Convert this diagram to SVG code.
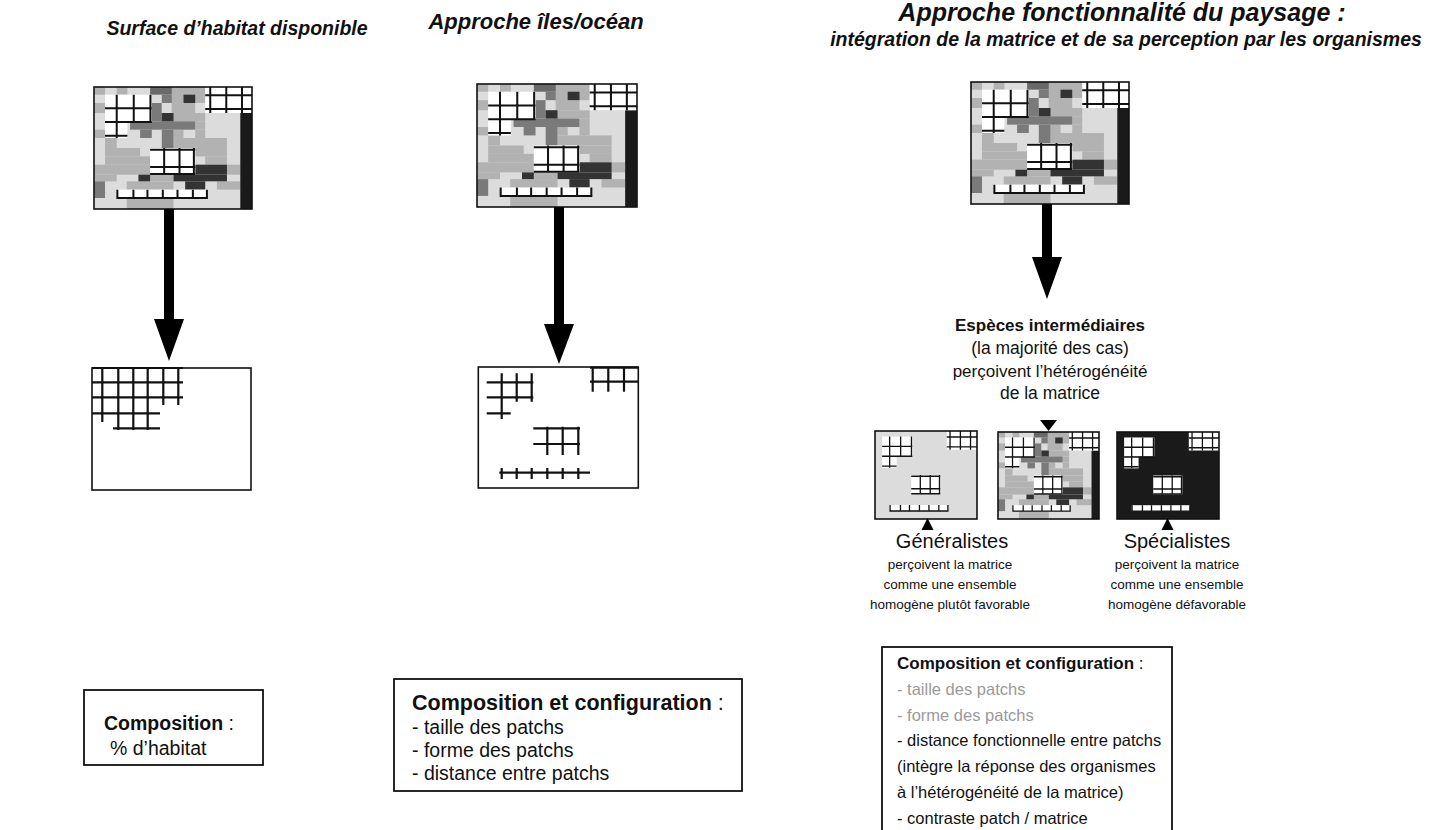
<svg xmlns="http://www.w3.org/2000/svg" width="1440" height="830" viewBox="0 0 1440 830">
<style>
  text { font-family: "Liberation Sans", Arial, Helvetica, sans-serif; fill: #111; }
  .bi { font-weight: bold; font-style: italic; }
  .b { font-weight: bold; }
  .gray { fill: #9a9a9a; }
  .frame { fill: none; stroke: #111; stroke-width: 1.6; }
  .box { fill: #fff; stroke: #111; stroke-width: 1.8; }
  .gl { stroke: #111; stroke-width: 6; fill: none; }
  .pl { stroke: #111; stroke-width: 2.2; fill: none; }
  .arrow { fill: #000; }
  .L { fill: #dcdcdc; } .M { fill: #b2b2b2; } .D { fill: #7a7a7a; } .V { fill: #333; } .K { fill: #1a1a1a; }
</style>
<defs>
  <symbol id="mosaic" viewBox="12 22 473 366" preserveAspectRatio="none">
    <rect class="L" x="12" y="22" width="473" height="366"/>
    <rect class="M" x="12" y="22" width="33" height="23"/>
    <rect class="M" x="80" y="22" width="32" height="23"/>
    <rect class="M" x="245" y="22" width="100" height="78"/>
    <rect class="M" x="12" y="70" width="33" height="30"/>
    <rect class="M" x="12" y="150" width="33" height="25"/>
    <rect class="M" x="245" y="100" width="100" height="25"/>
    <rect class="M" x="315" y="125" width="30" height="25"/>
    <rect class="M" x="250" y="150" width="30" height="25"/>
    <rect class="M" x="315" y="150" width="30" height="25"/>
    <rect class="M" x="45" y="175" width="35" height="30"/>
    <rect class="M" x="250" y="175" width="160" height="30"/>
    <rect class="M" x="45" y="205" width="105" height="25"/>
    <rect class="M" x="315" y="205" width="95" height="25"/>
    <rect class="M" x="45" y="230" width="135" height="25"/>
    <rect class="M" x="345" y="230" width="65" height="25"/>
    <rect class="M" x="12" y="255" width="168" height="30"/>
    <rect class="M" x="410" y="255" width="40" height="30"/>
    <rect class="M" x="12" y="285" width="68" height="20"/>
    <rect class="M" x="180" y="285" width="70" height="20"/>
    <rect class="M" x="110" y="305" width="140" height="25"/>
    <rect class="M" x="380" y="305" width="70" height="25"/>
    <rect class="M" x="110" y="355" width="140" height="33"/>
    <rect class="L" x="315" y="70" width="30" height="30"/>
    <rect fill="#6a6a6a" x="180" y="22" width="65" height="23"/>
    <rect class="D" x="215" y="45" width="30" height="55"/>
    <rect class="D" x="185" y="70" width="30" height="55"/>
    <rect class="L" x="215" y="70" width="30" height="30"/>
    <rect class="D" x="120" y="125" width="195" height="25"/>
    <rect class="D" x="150" y="150" width="35" height="25"/>
    <rect class="D" x="215" y="150" width="35" height="55"/>
    <rect class="D" x="12" y="305" width="33" height="50"/>
    <rect class="V" x="280" y="45" width="35" height="25"/>
    <rect class="V" x="215" y="100" width="35" height="25"/>
    <rect class="V" x="315" y="255" width="95" height="30"/>
    <rect class="V" x="145" y="285" width="35" height="20"/>
    <rect class="V" x="250" y="285" width="160" height="20"/>
    <rect class="V" x="285" y="305" width="60" height="25"/>
    <rect class="K" x="450" y="100" width="35" height="288"/>
  </symbol>
  <symbol id="patches" viewBox="12 22 473 366" preserveAspectRatio="none">
    <g fill="#fff">
      <rect x="45" y="45" width="140" height="80"/>
      <rect x="45" y="125" width="67" height="50"/>
      <rect x="345" y="22" width="140" height="78"/>
      <rect x="180" y="205" width="135" height="80"/>
      <rect x="80" y="330" width="270" height="25"/>
    </g>
    <path class="gl" d="M80 45V175M131 45V128M181 45V128M45 86H185M45 127H185M45 168H112
      M360 22V100M408 22V100M455 22V100M345 47H485M345 88H485
      M222 205V285M268 205V285M311 205V285M180 210H315M180 262H315M180 283H315
      M80 355H350M82 330V358M130 330V358M172 330V358M218 330V358M262 330V358M308 330V358M350 330V358"/>
  </symbol>
  <symbol id="landscape" viewBox="12 22 473 366" preserveAspectRatio="none">
    <use href="#mosaic" x="12" y="22" width="473" height="366"/>
    <use href="#patches" x="12" y="22" width="473" height="366"/>
  </symbol>
</defs>

<g id="titles">
  <text class="bi" font-size="19.5" x="237" y="35" text-anchor="middle">Surface d’habitat disponible</text>
  <text class="bi" font-size="22" x="536" y="29" text-anchor="middle">Approche îles/océan</text>
  <text class="bi" font-size="25" x="1122" y="21" text-anchor="middle">Approche fonctionnalité du paysage :</text>
  <text class="bi" font-size="19.5" x="1126" y="46" text-anchor="middle">intégration de la matrice et de sa perception par les organismes</text>
</g>

<g id="map-surface-top">
  <use href="#landscape" x="94" y="87" width="158" height="122"/>
  <rect class="frame" x="94" y="87" width="158" height="122"/>
</g>
<g id="map-iles-top">
  <use href="#landscape" x="477" y="84" width="160" height="123"/>
  <rect class="frame" x="477" y="84" width="160" height="123"/>
</g>
<g id="map-fonction-top">
  <use href="#landscape" x="971" y="82" width="158" height="122"/>
  <rect class="frame" x="971" y="82" width="158" height="122"/>
</g>

<g id="map-surface-bottom">
  <rect class="frame" x="92" y="368" width="159" height="122" fill="#fff"/>
  <path class="pl" d="M92 368H183M92 382.3H183M92 397.3H183M92 413.3H160M113 428.3H160
    M102.3 368V422M118.3 368V430M133.3 368V430M147.7 368V430M163.3 368V405M178.3 368V405"/>
</g>

<g id="map-iles-bottom">
  <rect class="frame" x="478.3" y="367" width="160" height="121" fill="#fff"/>
  <path class="pl" d="M486.7 382.3H533.3M486.7 397.3H533.3M486.7 413.3H510.7M501.7 373.3V419M516.7 373.3V401.7M531.7 373.3V401.7
    M590 367.7H638.3M590 381.7H638.3M592.7 367V391.7M608.3 367V391.7M624 367V391.7
    M533.3 428.3H580M533.3 444H580M547.3 426.7V455M562.7 426.7V455M578.3 426.7V455
    M499.3 472.7H590M501.7 468V479M516.7 468V479M531.7 468V479M547.3 468V479M562.7 468V479M578.3 468V479"/>
</g>

<g id="node-intermediaires">
  <text class="b" font-size="17" text-anchor="middle" x="1050" y="331">Espèces intermédiaires</text>
  <text font-size="17.5" text-anchor="middle" x="1050" y="354">(la majorité des cas)</text>
  <text font-size="17" text-anchor="middle" x="1050" y="377">perçoivent l’hétérogénéité</text>
  <text font-size="17.5" text-anchor="middle" x="1050" y="399">de la matrice</text>
</g>

<g id="map-generalistes">
  <rect class="L" x="875" y="431" width="102" height="88"/>
  <use href="#patches" x="875" y="431" width="102" height="88"/>
  <rect class="frame" x="875" y="431" width="102" height="88"/>
</g>
<g id="map-intermediaires">
  <use href="#landscape" x="998" y="432" width="101" height="87"/>
  <rect class="frame" x="998" y="432" width="101" height="87"/>
</g>
<g id="map-specialistes">
  <rect class="K" x="1117" y="432" width="102" height="87"/>
  <use href="#patches" x="1117" y="432" width="102" height="87"/>
  <rect class="frame" x="1117" y="432" width="102" height="87"/>
</g>

<g id="node-generalistes">
  <text font-size="20" text-anchor="middle" x="952" y="548">Généralistes</text>
  <text font-size="13.5" text-anchor="middle" x="950" y="569">perçoivent la matrice</text>
  <text font-size="13.5" text-anchor="middle" x="950" y="589">comme une ensemble</text>
  <text font-size="13.5" text-anchor="middle" x="950" y="609">homogène plutôt favorable</text>
</g>
<g id="node-specialistes">
  <text font-size="20" text-anchor="middle" x="1177" y="548">Spécialistes</text>
  <text font-size="13.5" text-anchor="middle" x="1177" y="569">perçoivent la matrice</text>
  <text font-size="13.5" text-anchor="middle" x="1177" y="589">comme une ensemble</text>
  <text font-size="13.5" text-anchor="middle" x="1177" y="609">homogène défavorable</text>
</g>

<g id="box-composition">
  <rect class="box" x="84" y="690" width="179" height="75"/>
  <text font-size="19.5" x="104" y="730"><tspan class="b">Composition</tspan> :</text>
  <text font-size="19.5" x="110" y="755">% d’habitat</text>
</g>
<g id="box-composition-configuration">
  <rect class="box" x="394" y="679" width="348" height="112"/>
  <text font-size="21.5" x="412" y="710"><tspan class="b">Composition et configuration</tspan> :</text>
  <text font-size="19.5" x="412" y="734">- taille des patchs</text>
  <text font-size="19.5" x="412" y="757">- forme des patchs</text>
  <text font-size="19.5" x="412" y="780">- distance entre patchs</text>
</g>
<g id="box-fonctionnel">
  <rect class="box" x="882" y="647" width="290" height="200"/>
  <text font-size="17" x="897" y="669"><tspan class="b">Composition et configuration</tspan> :</text>
  <text font-size="16.5" class="gray" x="897" y="695">- taille des patchs</text>
  <text font-size="16.5" class="gray" x="897" y="721">- forme des patchs</text>
  <text font-size="16.5" x="897" y="746">- distance fonctionnelle entre patchs</text>
  <text font-size="16.5" x="897" y="772">(intègre la réponse des organismes</text>
  <text font-size="16.5" x="897" y="798">à l’hétérogénéité de la matrice)</text>
  <text font-size="16.5" x="897" y="824">- contraste patch / matrice</text>
</g>

<g id="connectors">
  <path class="arrow" d="M164 209H174V319H184L169 361L154 319H164Z"/>
  <path class="arrow" d="M554 207H564V324H574L559 364L544 324H554Z"/>
  <path class="arrow" d="M1042 204H1052V257H1062L1047 299L1032 257H1042Z"/>
  <path class="arrow" d="M1040 420H1057L1048.5 431Z"/>
  <path class="arrow" d="M921.5 530H933.5L927.5 518Z"/>
  <path class="arrow" d="M1161.5 530H1173.5L1167.5 518Z"/>
</g>
</svg>
